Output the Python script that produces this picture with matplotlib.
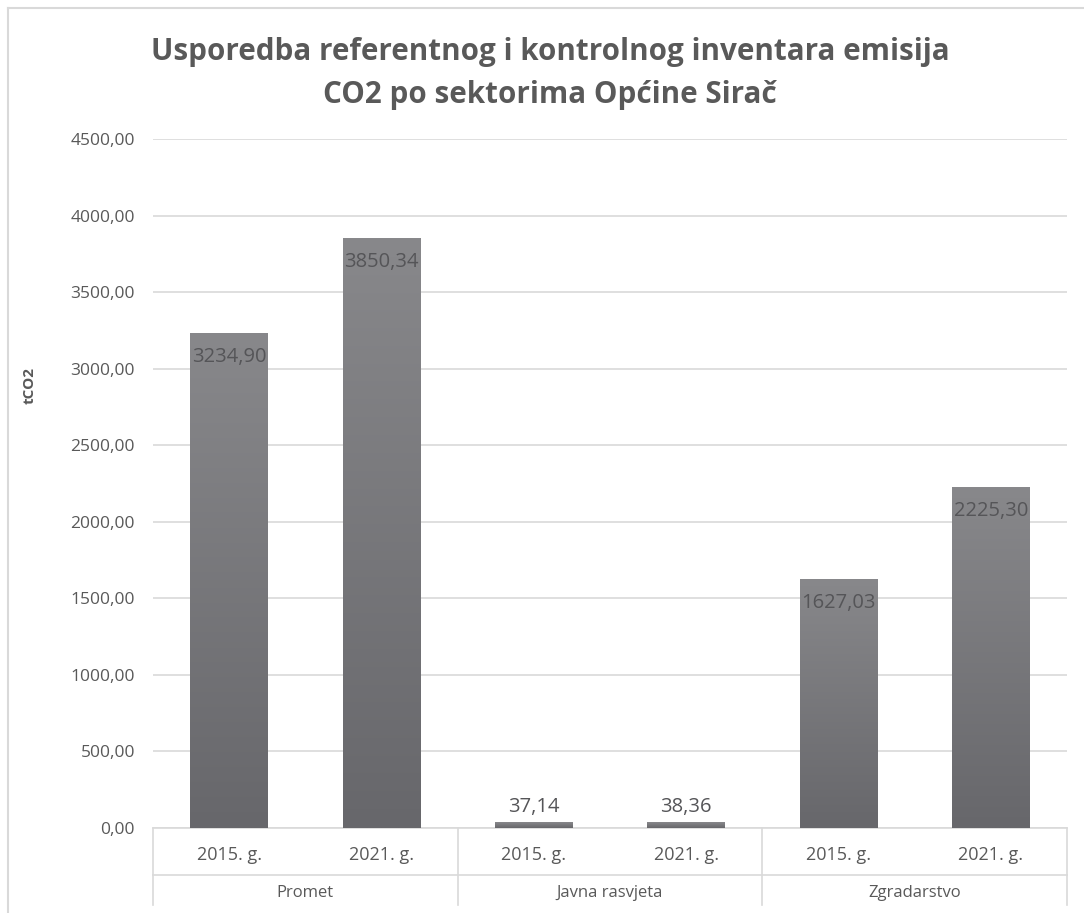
import matplotlib

matplotlib.use("Agg")
import matplotlib.pyplot as plt
import numpy as np
from matplotlib.ticker import FuncFormatter, MultipleLocator

# data
groups = ["Promet", "Javna rasvjeta", "Zgradarstvo"]
years = ["2015. g.", "2021. g."]
values = [3234.90, 3850.34, 37.14, 38.36, 1627.03, 2225.30]
labels_inside = [True, True, False, False, True, True]

_TEXT = "#595959"
_LABEL = "#555558"
_GRID = "#d9d9d9"
_TOP = "#88888b"
_BOTTOM = "#67676b"

plt.rcParams["font.family"] = ["Open Sans", "DejaVu Sans"]

W, H = 1084, 913
fig = plt.figure(figsize=(W / 100, H / 100), dpi=100)
ax = fig.add_axes([153 / W, 1 - 828 / H, 914 / W, 689 / H])

x = np.arange(len(values))
bars = ax.bar(x, values, width=0.51, color=_BOTTOM, zorder=3)

# vertical gradient on each bar
grad = np.linspace(1, 0, 256).reshape(-1, 1)
cmap = matplotlib.colors.LinearSegmentedColormap.from_list("g", [_BOTTOM, _TOP])
for b in bars:
    x0, w, h = b.get_x(), b.get_width(), b.get_height()
    im = ax.imshow(grad, cmap=cmap, extent=(x0, x0 + w, 0, h), aspect="auto", zorder=4)
    im.set_clip_path(b)

ax.set_xlim(-0.5, len(values) - 0.5)
ax.set_ylim(0, 4500)
ax.yaxis.set_major_locator(MultipleLocator(500))
ax.yaxis.set_major_formatter(FuncFormatter(lambda v, _: f"{v:.2f}".replace(".", ",")))
ax.yaxis.grid(True, color=_GRID, linewidth=1.2, zorder=0)
ax.set_axisbelow(True)
for s in ["top", "right", "left"]:
    ax.spines[s].set_visible(False)
ax.spines["bottom"].set_color(_GRID)
ax.spines["bottom"].set_linewidth(1.2)
ax.tick_params(axis="y", length=0, pad=13, labelsize=12.5, labelcolor=_TEXT)
ax.set_xticks([])

# value labels
for xi, v, inside in zip(x, values, labels_inside):
    txt = f"{v:.2f}".replace(".", ",")
    if inside:
        ax.annotate(txt, (xi, v), xytext=(0, -10), textcoords="offset points",
                    ha="center", va="top", fontsize=14.5, color=_LABEL, zorder=5)
    else:
        ax.annotate(txt, (xi, v), xytext=(0, 4), textcoords="offset points",
                    ha="center", va="bottom", fontsize=14.5, color=_LABEL, zorder=5)

# two-level category axis
trans = ax.get_xaxis_transform()
for i, xi in enumerate(x):
    ax.text(xi, -0.039, years[i % 2], transform=trans, ha="center", va="center",
            fontsize=13, color=_TEXT)
for g, name in enumerate(groups):
    ax.text(2 * g + 0.5, -0.094, name, transform=trans, ha="center", va="center",
            fontsize=12, color=_TEXT)
for sep in [-0.5, 1.5, 3.5, 5.5]:
    ax.plot([sep, sep], [0, -0.112], transform=trans, color=_GRID, lw=1.2, clip_on=False)
ax.plot([-0.5, 5.5], [-0.068, -0.068], transform=trans, color=_GRID, lw=1.2, clip_on=False)

fig.text(30 / W, 1 - 385 / H, "tCO2", rotation=90, ha="center", va="center",
         fontsize=11, fontweight="bold", color=_TEXT)
fig.text(550 / W, 1 - 52 / H, "Usporedba referentnog i kontrolnog inventara emisija",
         ha="center", va="center", fontsize=21.3, fontweight="bold", color=_TEXT)
fig.text(550 / W, 1 - 95 / H, "CO2 po sektorima Općine Sirač",
         ha="center", va="center", fontsize=21.3, fontweight="bold", color=_TEXT)

# chart border (left and top edges visible)
fig.add_artist(plt.Line2D([8 / W, 8 / W], [0, 1 - 8 / H], color=_GRID, lw=1.5))
fig.add_artist(plt.Line2D([8 / W, 1], [1 - 8 / H, 1 - 8 / H], color=_GRID, lw=1.5))

fig.savefig("out.png", dpi=100)
